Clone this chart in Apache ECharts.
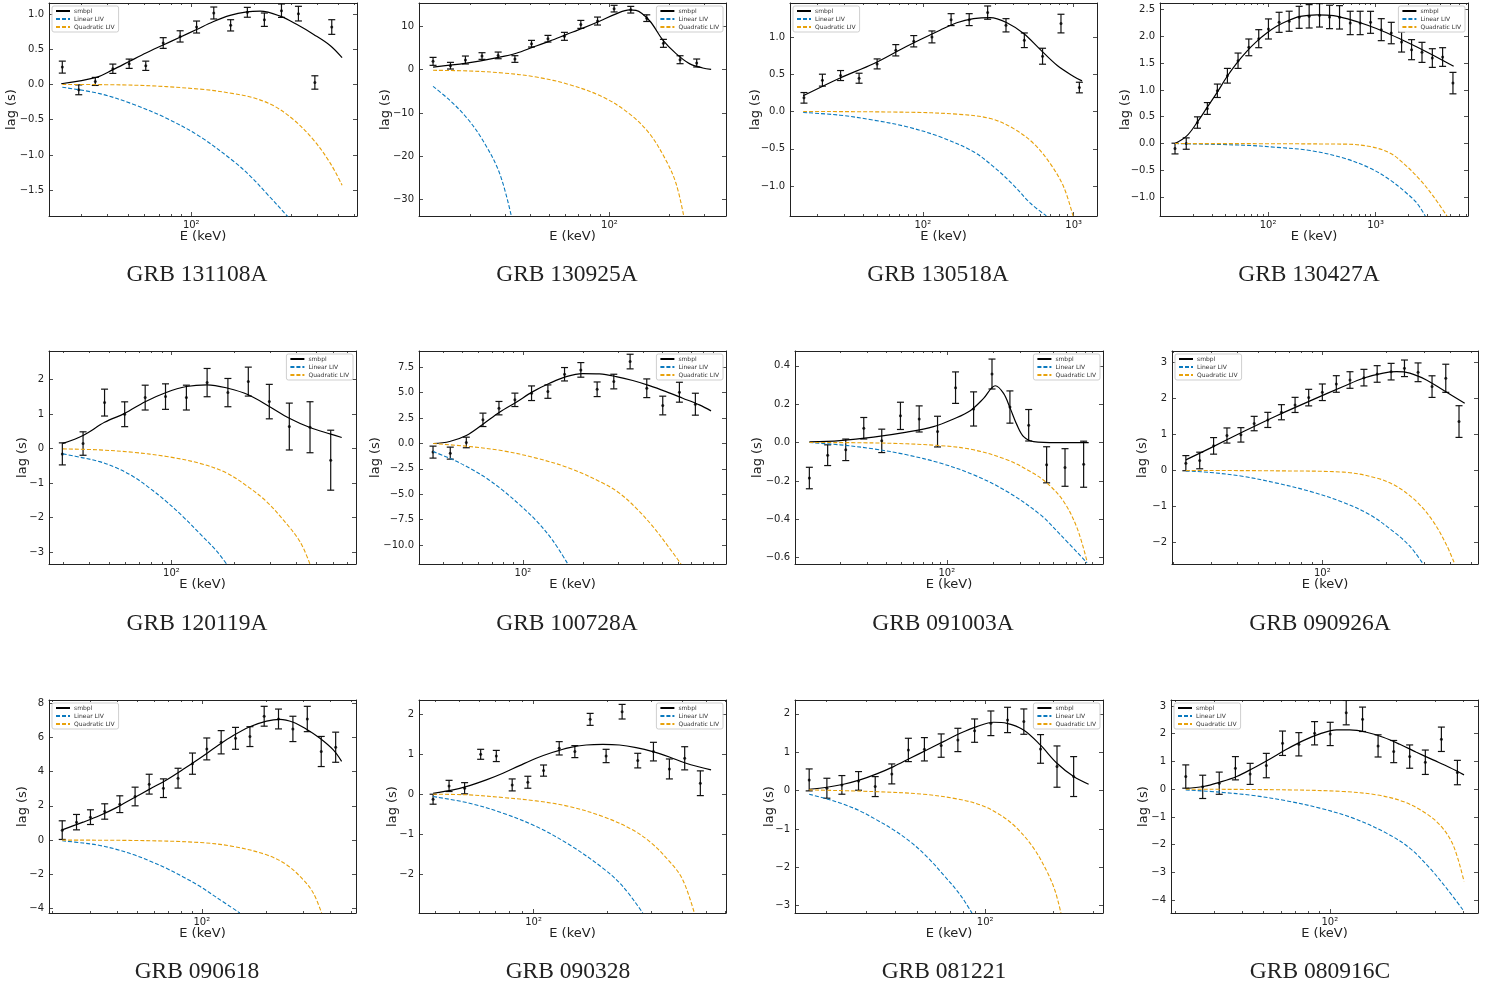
<!DOCTYPE html>
<html>
<head>
<meta charset="utf-8">
<title>GRB spectral lags</title>
<script src="https://cdn.jsdelivr.net/npm/echarts@6/dist/echarts.min.js"></script>
<style>
html, body { margin: 0; padding: 0; background: #fff; }
#lags { width: 1500px; height: 988px; }
</style>
</head>
<body>
<div id="lags"></div>
<script>
// measured lags: [E (keV), lag (s), error (s)]; curves: [E (keV), lag (s)]
var pts131108A = [[24.3,0.246,0.085],[29.1,-0.076,0.07],[34.9,0.043,0.057],[42.3,0.223,0.066],[50.6,0.294,0.066],[60.7,0.265,0.066],[73.5,0.588,0.076],[88.5,0.682,0.08],[106,0.815,0.085],[128,1.014,0.085],[154,0.839,0.08],[185,1.024,0.07],[223,0.919,0.095],[269,1.047,0.095],[324,1.005,0.104],[388,0.028,0.095],[467,0.815,0.104]];
var smbpl131108A = [[24.0,0.01],[35.3,0.10],[42.4,0.21],[50.9,0.33],[61.2,0.45],[73.5,0.56],[88.3,0.67],[106,0.78],[127,0.89],[153,0.98],[184,1.03],[213,1.04],[265,0.97],[319,0.85],[383,0.71],[460,0.55],[523,0.38]];
var lin131108A = [[24.3,-0.04],[36.6,-0.13],[52.8,-0.28],[76.2,-0.48],[110,-0.74],[159,-1.09],[191,-1.30],[229,-1.55],[287,-1.87],[300,-1.95]];
var quad131108A = [[24.3,0],[52.8,-0.01],[110,-0.066],[159,-0.13],[198,-0.19],[246,-0.30],[307,-0.50],[383,-0.79],[460,-1.12],[523,-1.43]];
var xLim131108A = [21.0, 616];
var yLim131108A = [-1.867, 1.156];
var yTicks131108A = [-1.5, -1, -0.5, 0, 0.5, 1];

var pts130925A = [[13.0,1.92,0.92],[15.9,0.92,0.77],[18.9,2.23,0.92],[22.9,3.15,0.77],[27.6,3.3,0.77],[33.5,2.46,0.77],[40.6,6.0,0.77],[49.1,7.15,0.77],[59.4,7.7,0.92],[71.8,10.46,0.92],[87.1,11.23,0.92],[105.5,14.1,0.77],[127.9,13.85,0.77],[153.9,11.9,0.77],[186.6,6.08,0.92],[226.2,2.3,0.92],[274.2,1.54,0.92]];
var smbpl130925A = [[13.0,0.6],[19.1,1.5],[28.1,2.9],[34.0,3.8],[41.3,5.2],[50.0,6.6],[60.6,8.1],[73.5,9.6],[89.1,11.2],[108,12.9],[126,13.8],[136,13.7],[159,11.3],[185,6.9],[216,3.7],[252,1.4],[294,0.38],[324,0.08]];
var lin130925A = [[13.0,-3.85],[15.8,-7.1],[19.1,-11.0],[23.1,-16.3],[28.1,-24],[32.4,-34.5]];
var quad130925A = [[13.0,-0.15],[19.8,-0.3],[29.2,-0.77],[42.9,-1.7],[63.0,-3.46],[92.6,-6.3],[126,-10.2],[159,-14.8],[192,-20.9],[216,-26.3],[236,-33.8]];
var xLim130925A = [11.05, 384.8];
var yLim130925A = [-33.8, 15.4];
var yTicks130925A = [-30, -20, -10, 0, 10];

var pts130518A = [[16.3,0.183,0.071],[21.6,0.42,0.08],[28.5,0.482,0.067],[37.8,0.446,0.067],[49.8,0.638,0.067],[66.2,0.821,0.076],[87.1,0.942,0.076],[115,1.0,0.08],[154,1.232,0.08],[203,1.232,0.08],[269,1.326,0.089],[356,1.156,0.089],[471,0.955,0.098],[622,0.741,0.107],[824,1.179,0.125],[1091,0.321,0.071]];
var smbpl130518A = [[16.1,0.21],[28.3,0.45],[47.1,0.64],[78.3,0.875],[130,1.09],[168,1.19],[217,1.245],[280,1.26],[361,1.19],[466,1.045],[601,0.83],[775,0.62],[1000,0.47],[1136,0.41]];
var lin130518A = [[16.1,-0.013],[28.3,-0.05],[47.1,-0.116],[78.3,-0.205],[130,-0.34],[217,-0.54],[294,-0.74],[400,-0.99],[516,-1.23],[659,-1.40]];
var quad130518A = [[16.1,0],[78.3,-0.01],[168,-0.036],[280,-0.094],[400,-0.23],[543,-0.43],[700,-0.70],[858,-1.01],[990,-1.40]];
var xLim130518A = [13.17, 1428];
var yLim130518A = [-1.402, 1.455];
var yTicks130518A = [-1, -0.5, 0, 0.5, 1];

var pts130427A = [[13.6,-0.093,0.1],[17.3,0.0,0.106],[22.0,0.392,0.106],[27.2,0.654,0.11],[33.7,0.984,0.125],[41.8,1.264,0.137],[52.5,1.544,0.143],[66.1,1.793,0.156],[81.8,1.955,0.168],[100.7,2.136,0.187],[126.6,2.26,0.187],[157,2.28,0.187],[194.5,2.353,0.205],[241,2.372,0.218],[301,2.39,0.218],[373,2.36,0.218],[462,2.353,0.218],[581,2.248,0.218],[719,2.248,0.218],[898,2.26,0.205],[1130,2.123,0.205],[1400,2.06,0.2],[1746,1.893,0.187],[2163,1.75,0.187],[2704,1.70,0.187],[3375,1.594,0.174],[4207,1.613,0.174],[5250,1.127,0.2]];
var smbpl130427A = [[13.6,0],[17.5,0.143],[21.6,0.38],[26.8,0.66],[33.2,0.94],[41.2,1.24],[51.1,1.5],[63.3,1.72],[78.4,1.905],[97.2,2.06],[120,2.185],[149,2.28],[199,2.37],[284,2.40],[406,2.385],[581,2.31],[831,2.21],[1187,2.09],[1697,1.95],[2427,1.80],[3470,1.64],[5330,1.44]];
var lin130427A = [[13.6,0],[58.9,-0.03],[120,-0.07],[246,-0.13],[503,-0.27],[892,-0.46],[1369,-0.68],[1958,-0.93],[2427,-1.11],[2901,-1.35]];
var quad130427A = [[13.6,0],[503,-0.01],[892,-0.056],[1369,-0.18],[1823,-0.37],[2607,-0.68],[3470,-0.99],[4619,-1.35]];
var xLim130427A = [9.86, 7248];
var yLim130427A = [-1.35, 2.62];
var yTicks130427A = [-1, -0.5, 0, 0.5, 1, 1.5, 2, 2.5];

var pts120119A = [[29.8,-0.155,0.32],[37.5,0.145,0.34],[47.6,1.333,0.39],[59.5,0.995,0.36],[74.7,1.478,0.36],[93.6,1.507,0.37],[118,1.478,0.36],[148.5,1.913,0.41],[187,1.623,0.41],[234.5,1.942,0.42],[296,1.362,0.5],[369.6,0.638,0.68],[465,0.618,0.74],[585,-0.338,0.87]];
var smbpl120119A = [[30.0,0.15],[37.5,0.38],[47.6,0.76],[59.5,1.02],[74.7,1.36],[93.6,1.62],[118,1.80],[148.5,1.85],[187,1.75],[234.5,1.56],[296,1.22],[369.6,0.88],[465,0.61],[585,0.42],[661,0.32]];
var lin120119A = [[30.0,-0.155],[37.5,-0.27],[45.1,-0.38],[54.3,-0.56],[65.3,-0.81],[78.6,-1.15],[94.6,-1.54],[113.8,-1.98],[137,-2.47],[164.8,-2.97],[184.2,-3.35]];
var quad120119A = [[30.0,-0.01],[45.1,-0.04],[65.3,-0.11],[94.6,-0.23],[137,-0.43],[184.2,-0.71],[238.7,-1.15],[287.2,-1.54],[345.6,-2.07],[415.9,-2.70],[464.8,-3.35]];
var xLim120119A = [25.7, 774.5];
var yLim120119A = [-3.35, 2.83];
var yTicks120119A = [-3, -2, -1, 0, 1, 2];

var pts100728A = [[35.5,-0.85,0.59],[43.3,-0.95,0.59],[52.1,0.1,0.52],[63.1,2.33,0.66],[75.9,3.48,0.66],[91.2,4.3,0.66],[110.5,4.95,0.72],[133.4,5.11,0.66],[161.6,6.82,0.66],[195,7.25,0.72],[235.3,5.34,0.72],[285.1,6.1,0.72],[344.1,8.07,0.72],[416.9,5.44,0.92],[501.2,3.74,0.92],[607.3,5.05,0.98],[730,3.87,1.08]];
var smbpl100728A = [[35.5,0],[43.0,0.2],[52.1,0.79],[63.1,1.9],[76.4,3.08],[92.6,4.07],[112.2,5.11],[136,5.93],[164.7,6.59],[199.5,6.89],[241.7,6.85],[292.9,6.59],[354.8,6.2],[429.9,5.7],[520.8,5.11],[631,4.46],[764.3,3.8],[874.3,3.21]];
var lin100728A = [[35.5,-0.79],[44.7,-1.6],[54.1,-2.43],[65.6,-3.41],[79.4,-4.62],[96.2,-6.03],[116.6,-7.6],[141.3,-9.57],[167.9,-11.87]];
var quad100728A = [[35.5,0],[54.1,-0.3],[79.4,-0.72],[116.6,-1.44],[171.1,-2.43],[251.2,-3.9],[304.2,-4.89],[368.6,-6.36],[446.7,-8.16],[541.1,-10.3],[618.8,-11.87]];
var xLim100728A = [30.2, 1039];
var yLim100728A = [-11.87, 9.11];
var yTicks100728A = [-10, -7.5, -5, -2.5, 0, 2.5, 5, 7.5];

var pts091003A = [[12.6,-0.185,0.056],[16.6,-0.066,0.054],[21.8,-0.038,0.056],[28.6,0.0745,0.056],[37.5,0.0087,0.061],[49.7,0.139,0.071],[65.9,0.123,0.068],[86.9,0.057,0.08],[114,0.286,0.082],[149.6,0.175,0.089],[197.4,0.357,0.078],[258.6,0.185,0.084],[343,0.09,0.082],[449.5,-0.116,0.094],[593,-0.13,0.098],[785,-0.113,0.12]];
var smbpl091003A = [[12.6,0.003],[20.0,0.01],[33.1,0.028],[54.7,0.054],[81.8,0.083],[110.6,0.123],[142.2,0.166],[173.9,0.23],[207.3,0.296],[235,0.256],[259.8,0.178],[287.4,0.092],[317.8,0.031],[369.5,0.005],[525.5,0],[847.1,0]];
var lin091003A = [[12.6,0],[20.0,-0.012],[33.1,-0.033],[54.7,-0.064],[90.4,-0.107],[149.5,-0.168],[247.2,-0.255],[408.7,-0.376],[552.6,-0.48],[826.1,-0.627]];
var quad091003A = [[12.6,0],[33.1,-0.002],[90.4,-0.016],[149.5,-0.038],[247.2,-0.09],[351.5,-0.151],[451.9,-0.211],[581.1,-0.307],[710.5,-0.445],[826.1,-0.619]];
var xLim091003A = [10.15, 1051];
var yLim091003A = [-0.633, 0.477];
var yTicks091003A = [-0.6, -0.4, -0.2, 0, 0.2, 0.4];

var pts090926A = [[22.9,0.203,0.21],[26.6,0.277,0.23],[30.9,0.683,0.23],[35.7,0.97,0.21],[41.5,0.988,0.2],[47.9,1.302,0.2],[55.5,1.403,0.21],[64.3,1.616,0.21],[74.5,1.819,0.21],[86.3,2.022,0.23],[100,2.17,0.23],[116.3,2.4,0.23],[134.8,2.51,0.23],[156.7,2.576,0.23],[180.8,2.678,0.23],[210.2,2.742,0.23],[242.8,2.835,0.23],[281.2,2.724,0.26],[327,2.327,0.3],[379.3,2.558,0.39],[437.6,1.357,0.44]];
var smbpl090926A = [[22.9,0.295],[29.8,0.62],[42.7,1.08],[61.1,1.52],[87.6,1.93],[125.4,2.33],[155.6,2.56],[193,2.70],[222.8,2.74],[257.2,2.70],[307.7,2.51],[368.4,2.23],[465.3,1.865]];
var lin090926A = [[22.9,-0.01],[29.8,-0.055],[42.7,-0.166],[61.1,-0.35],[87.6,-0.58],[125.4,-0.886],[167.2,-1.23],[214.9,-1.69],[257.2,-2.1],[297,-2.595]];
var quad090926A = [[22.9,0],[61.1,-0.01],[125.4,-0.046],[179.6,-0.21],[222.8,-0.44],[276.3,-0.86],[330.7,-1.41],[381.8,-2.06],[417.7,-2.595]];
var xLim090926A = [19.72, 537.2];
var yLim090926A = [-2.595, 3.315];
var yTicks090926A = [-2, -1, 0, 1, 2, 3];

var pts090618 = [[22.2,0.584,0.545],[25.9,1.05,0.45],[30.1,1.342,0.43],[35.1,1.673,0.45],[41.3,2.1,0.49],[48.7,2.55,0.545],[56.7,3.27,0.58],[66.1,3.035,0.545],[77.4,3.62,0.58],[90.4,4.47,0.62],[105.5,5.33,0.64],[123.2,5.72,0.68],[143.8,5.95,0.64],[168,6.05,0.58],[195.9,7.24,0.58],[228.6,7.08,0.58],[267,6.5,0.74],[311.8,7.08,0.74],[362.4,5.18,0.88],[423.4,5.43,0.88]];
var smbpl090618 = [[22.2,0.6],[27.8,1.05],[33.3,1.44],[39.8,1.9],[47.7,2.45],[57.0,2.98],[68.3,3.52],[81.8,4.14],[97.9,4.79],[117.2,5.47],[140.3,6.11],[167.9,6.63],[201,6.96],[232.1,7.06],[268,6.89],[309.4,6.48],[357.4,5.95],[412.7,5.27],[451.5,4.6]];
var lin090618 = [[22.2,-0.04],[27.8,-0.17],[33.3,-0.31],[39.8,-0.54],[47.7,-0.84],[57.0,-1.22],[68.3,-1.65],[81.8,-2.15],[97.9,-2.70],[117.2,-3.35],[150.7,-4.26]];
var quad090618 = [[22.2,0],[47.7,-0.02],[97.9,-0.14],[140.3,-0.37],[201,-0.86],[249.4,-1.44],[298.5,-2.32],[332.6,-3.09],[363.9,-4.26]];
var xLim090618 = [19.25, 527.2];
var yLim090618 = [-4.26, 8.19];
var yTicks090618 = [-4, -2, 0, 2, 4, 6, 8];

var pts090328 = [[39.1,-0.125,0.125],[45.4,0.208,0.14],[52.5,0.15,0.14],[61.0,1.0,0.125],[70.6,0.958,0.14],[81.9,0.233,0.15],[94.8,0.3,0.15],[109.8,0.592,0.14],[127.1,1.15,0.167],[147.1,1.067,0.15],[169.7,1.875,0.15],[197,0.958,0.167],[228.8,2.067,0.183],[264.8,0.842,0.183],[306.6,1.067,0.233],[355.9,0.633,0.25],[410.6,0.9,0.29],[475.3,0.275,0.31]];
var smbpl090328 = [[39.1,0.025],[47.1,0.108],[55.0,0.217],[64.3,0.358],[75.1,0.525],[87.8,0.717],[102.5,0.9],[119.8,1.05],[139.9,1.167],[163.5,1.233],[191,1.25],[223.2,1.233],[260.8,1.167],[304.7,1.067],[355.9,0.933],[415.8,0.775],[525.3,0.608]];
var lin090328 = [[39.1,-0.058],[55.0,-0.225],[75.1,-0.475],[102.5,-0.808],[139.9,-1.267],[191,-1.85],[230.2,-2.308],[277.5,-2.975]];
var quad090328 = [[39.1,0],[55.0,-0.017],[75.1,-0.083],[102.5,-0.167],[139.9,-0.308],[191,-0.558],[245,-0.85],[295.3,-1.18],[355.9,-1.68],[403.1,-2.14],[449.4,-2.975]];
var xLim090328 = [34.28, 604.1];
var yLim090328 = [-2.975, 2.36];
var yTicks090328 = [-2, -1, 0, 1, 2];

var pts081221 = [[16.8,0.278,0.286],[20.1,0.061,0.26],[23.4,0.148,0.243],[27.7,0.252,0.243],[32.8,0.104,0.26],[38.8,0.434,0.26],[45.9,1.059,0.304],[54.0,1.076,0.304],[64.0,1.172,0.304],[75.8,1.319,0.304],[89.8,1.562,0.304],[105.9,1.753,0.321],[125.4,1.84,0.33],[147.9,1.797,0.33],[175.2,1.085,0.373],[207,0.625,0.538],[245,0.365,0.52]];
var smbpl081221 = [[16.8,0.035],[20.1,0.087],[23.8,0.165],[28.1,0.278],[33.3,0.434],[39.5,0.625],[46.7,0.842],[55.3,1.059],[65.5,1.276],[77.6,1.493],[91.9,1.667],[108.8,1.78],[124.6,1.753],[147.5,1.58],[174.7,1.19],[206.9,0.712],[245,0.365],[285.2,0.165]];
var lin081221 = [[16.8,-0.095],[20.1,-0.217],[23.8,-0.356],[28.1,-0.53],[33.3,-0.764],[39.5,-1.024],[46.7,-1.328],[55.3,-1.719],[65.5,-2.196],[77.6,-2.717],[87.4,-3.19]];
var quad081221 = [[16.8,0.017],[32.2,-0.026],[53.5,-0.095],[75.0,-0.217],[95.1,-0.373],[116.4,-0.634],[137.9,-0.98],[163.3,-1.5],[187,-2.11],[203.4,-2.63],[215.4,-3.19]];
var xLim081221 = [14.55, 329.9];
var yLim081221 = [-3.19, 2.36];
var yTicks081221 = [-3, -2, -1, 0, 1, 2];

var pts080916C = [[22.3,0.456,0.42],[26.6,0.084,0.42],[31.6,0.216,0.4],[37.4,0.756,0.42],[43.6,0.552,0.38],[51.6,0.852,0.44],[61.1,1.657,0.44],[72.4,1.62,0.42],[85.3,2.017,0.42],[100.4,1.993,0.42],[118.6,2.761,0.44],[140.6,2.521,0.44],[165.3,1.561,0.4],[194.5,1.357,0.4],[229.7,1.176,0.42],[270.4,0.972,0.44],[319.6,1.8,0.44],[377.6,0.6,0.44]];
var smbpl080916C = [[22.3,0.024],[26.8,0.096],[31.8,0.252],[37.9,0.456],[45.0,0.756],[53.6,1.092],[63.7,1.44],[75.8,1.753],[90.1,1.993],[107.2,2.137],[123.1,2.137],[146.4,2.053],[174.2,1.873],[207.2,1.62],[246.4,1.333],[293.1,1.056],[348.5,0.78],[404.5,0.516]];
var lin080916C = [[22.3,-0.024],[31.8,-0.108],[45.0,-0.228],[63.7,-0.42],[90.1,-0.684],[127.4,-1.044],[180.3,-1.585],[229.8,-2.125],[283,-2.845],[336.6,-3.565],[404.5,-4.406]];
var quad080916C = [[22.3,0],[63.7,-0.024],[114.9,-0.084],[162.5,-0.204],[214.5,-0.444],[264,-0.804],[314.1,-1.284],[360.8,-2.005],[404.5,-3.325]];
var xLim080916C = [19.12, 468.0];
var yLim080916C = [-4.466, 3.217];
var yTicks080916C = [-4, -3, -2, -1, 0, 1, 2, 3];

var grbNames = ['GRB 131108A','GRB 130925A','GRB 130518A','GRB 130427A','GRB 120119A','GRB 100728A','GRB 091003A','GRB 090926A','GRB 090618','GRB 090328','GRB 081221','GRB 080916C'];
var lagPoints = [pts131108A, pts130925A, pts130518A, pts130427A, pts120119A, pts100728A, pts091003A, pts090926A, pts090618, pts090328, pts081221, pts080916C];
var smbplCurves = [smbpl131108A, smbpl130925A, smbpl130518A, smbpl130427A, smbpl120119A, smbpl100728A, smbpl091003A, smbpl090926A, smbpl090618, smbpl090328, smbpl081221, smbpl080916C];
var linCurves = [lin131108A, lin130925A, lin130518A, lin130427A, lin120119A, lin100728A, lin091003A, lin090926A, lin090618, lin090328, lin081221, lin080916C];
var quadCurves = [quad131108A, quad130925A, quad130518A, quad130427A, quad120119A, quad100728A, quad091003A, quad090926A, quad090618, quad090328, quad081221, quad080916C];
var xLims = [xLim131108A, xLim130925A, xLim130518A, xLim130427A, xLim120119A, xLim100728A, xLim091003A, xLim090926A, xLim090618, xLim090328, xLim081221, xLim080916C];
var yLims = [yLim131108A, yLim130925A, yLim130518A, yLim130427A, yLim120119A, yLim100728A, yLim091003A, yLim090926A, yLim090618, yLim090328, yLim081221, yLim080916C];
var yTicks = [yTicks131108A, yTicks130925A, yTicks130518A, yTicks130427A, yTicks120119A, yTicks100728A, yTicks091003A, yTicks090926A, yTicks090618, yTicks090328, yTicks081221, yTicks080916C];

// panel boxes in px: left, top, width, height, legend side, ylabel gap, title centre x, decimals
var panelBox = [
	[49, 3, 308, 213, 'left', 31, 197, 1],
	[419, 3, 307, 213, 'right', 27, 567, 0],
	[790, 3, 307, 213, 'left', 28, 938, 1],
	[1160, 3, 308, 213, 'right', 28, 1309, 1],
	[49, 351, 307, 213, 'right', 20, 197, 0],
	[419, 351, 307, 213, 'right', 37, 567, 1],
	[795, 351, 308, 213, 'right', 31, 943, 1],
	[1172, 351, 306, 213, 'left', 23, 1320, 0],
	[49, 700, 307, 213, 'left', 20, 197, 0],
	[419, 700, 307, 213, 'right', 20, 568, 0],
	[795, 700, 308, 213, 'right', 19, 944, 0],
	[1171, 700, 307, 213, 'left', 21, 1320, 0]
];
var titleY = [273, 622, 970];

var lagChart = (function() {
	var ink = '#222';
	var blue = '#0a79be';
	var orange = '#e8a20c';
	var sans = 'DejaVu Sans';
	var supers = {'1': '\u00b9', '2': '\u00b2', '3': '\u00b3', '4': '\u2074'};

	function lg(v) {
		return Math.log(v) / Math.LN10;
	}
	function toLog(arr) {
		return arr.map(function(p) {
			var q = p.slice();
			q[0] = lg(p[0]);
			return q;
		});
	}
	// decades that sit clearly inside the axis range
	function majors(lim) {
		var out = [], lo = lg(lim[0]), hi = lg(lim[1]);
		for (var p = Math.ceil(lo); p <= Math.floor(hi); p++) {
			if (p > lo + 0.03 && p < hi - 0.03) out.push(p);
		}
		return out;
	}
	function minors(lim) {
		var out = [], lo = lg(lim[0]), hi = lg(lim[1]);
		for (var p = Math.floor(lo); p <= Math.ceil(hi); p++) {
			for (var k = 2; k < 10; k++) {
				var v = p + lg(k);
				if (v > lo && v < hi) out.push(v);
			}
		}
		return out;
	}
	function lagLabel(dec) {
		return function(v) {
			var s = Math.abs(v).toFixed(dec);
			return (v < -1e-9 ? '\u2212' : '') + s;
		};
	}
	function errBar(params, api) {
		var x = api.value(0), y = api.value(1), e = api.value(2);
		var hi = api.coord([x, y + e]);
		var lo = api.coord([x, y - e]);
		var cap = 3.5;
		var st = {stroke: '#111', lineWidth: 1.2};
		return {
			type: 'group',
			children: [
				{type: 'line', shape: {x1: hi[0], y1: hi[1], x2: lo[0], y2: lo[1]}, style: st},
				{type: 'line', shape: {x1: hi[0] - cap, y1: hi[1], x2: hi[0] + cap, y2: hi[1]}, style: st},
				{type: 'line', shape: {x1: lo[0] - cap, y1: lo[1], x2: lo[0] + cap, y2: lo[1]}, style: st}
			]
		};
	}
	function xAxisPart(i, lim, pos, ticks, len, withLine, withLabel) {
		var ax = {
			type: 'value',
			gridIndex: i,
			min: lg(lim[0]),
			max: lg(lim[1]),
			position: pos,
			axisLine: {show: withLine, onZero: false, lineStyle: {color: ink, width: 1}},
			axisTick: {show: true, inside: true, length: len, customValues: ticks, lineStyle: {color: ink, width: 0.8}},
			axisLabel: {show: false},
			splitLine: {show: false}
		};
		if (withLabel) {
			ax.axisLabel = {
				show: true,
				customValues: ticks,
				margin: 4,
				fontSize: 10,
				fontFamily: sans,
				color: ink,
				formatter: function(v) { return '10' + supers[String(Math.round(v))]; }
			};
			ax.name = 'E (keV)';
			ax.nameLocation = 'middle';
			ax.nameGap = 14;
			ax.nameMoveOverlap = false;
			ax.nameTextStyle = {fontSize: 13, fontFamily: sans, color: ink};
		}
		return ax;
	}

	return {
		init: function() {
			var chart = echarts.init(document.getElementById('lags'));
			var grids = [], xAxes = [], yAxes = [], series = [], legends = [], titles = [];

			for (var i = 0; i < grbNames.length; i++) {
				var box = panelBox[i];
				var xl = xLims[i], yl = yLims[i];
				var maj = majors(xl), mnr = minors(xl);

				grids.push({left: box[0], top: box[1], width: box[2], height: box[3], containLabel: false, outerBoundsMode: 'none'});

				xAxes.push(xAxisPart(i, xl, 'bottom', maj, 4, true, true));
				xAxes.push(xAxisPart(i, xl, 'bottom', mnr, 2, false, false));
				xAxes.push(xAxisPart(i, xl, 'top', maj, 4, true, false));
				xAxes.push(xAxisPart(i, xl, 'top', mnr, 2, false, false));

				yAxes.push({
					type: 'value', gridIndex: i, min: yl[0], max: yl[1], position: 'left',
					axisLine: {show: true, onZero: false, lineStyle: {color: ink, width: 1}},
					axisTick: {show: true, inside: true, length: 4, customValues: yTicks[i], lineStyle: {color: ink, width: 0.8}},
					axisLabel: {show: true, customValues: yTicks[i], margin: 5, fontSize: 10, fontFamily: sans, color: ink, formatter: lagLabel(box[7])},
					splitLine: {show: false},
					name: 'lag (s)', nameLocation: 'middle', nameGap: box[5], nameRotate: 90, nameMoveOverlap: false,
					nameTextStyle: {fontSize: 13, fontFamily: sans, color: ink}
				});
				yAxes.push({
					type: 'value', gridIndex: i, min: yl[0], max: yl[1], position: 'right',
					axisLine: {show: true, onZero: false, lineStyle: {color: ink, width: 1}},
					axisTick: {show: true, inside: true, length: 4, customValues: yTicks[i], lineStyle: {color: ink, width: 0.8}},
					axisLabel: {show: false},
					splitLine: {show: false}
				});

				var xi = i * 4, yi = i * 2;
				series.push({
					type: 'custom', name: 'lag', xAxisIndex: xi, yAxisIndex: yi,
					renderItem: errBar, data: toLog(lagPoints[i]), encode: {x: 0, y: 1}, clip: true, z: 2
				});
				series.push({
					type: 'scatter', name: 'lag', xAxisIndex: xi, yAxisIndex: yi,
					data: toLog(lagPoints[i]).map(function(p) { return [p[0], p[1]]; }),
					symbol: 'circle', symbolSize: 3, itemStyle: {color: '#000'}, z: 3
				});
				series.push({
					type: 'line', name: 'smbpl', xAxisIndex: xi, yAxisIndex: yi,
					data: toLog(smbplCurves[i]), smooth: 0.35, symbol: 'none',
					lineStyle: {color: '#000', width: 1.2}, itemStyle: {color: '#000'}, z: 4
				});
				series.push({
					type: 'line', name: 'Linear LIV', xAxisIndex: xi, yAxisIndex: yi,
					data: toLog(linCurves[i]), smooth: 0.35, symbol: 'none',
					lineStyle: {color: blue, width: 1.1, type: [4, 2]}, itemStyle: {color: blue}, z: 4
				});
				series.push({
					type: 'line', name: 'Quadratic LIV', xAxisIndex: xi, yAxisIndex: yi,
					data: toLog(quadCurves[i]), smooth: 0.35, symbol: 'none',
					lineStyle: {color: orange, width: 1.1, type: [4, 2]}, itemStyle: {color: orange}, z: 4
				});

				var leg = {
					data: ['smbpl', 'Linear LIV', 'Quadratic LIV'],
					orient: 'vertical', top: box[1] + 3,
					itemWidth: 14, itemHeight: 6, itemGap: 2,
					padding: [2, 4, 2, 3],
					itemStyle: {opacity: 0},
					textStyle: {fontSize: 6, fontFamily: sans, color: '#333', padding: [0, 0, 0, -1]},
					backgroundColor: 'rgba(255,255,255,0.85)',
					borderColor: '#cfcfcf', borderWidth: 1, borderRadius: 2,
					selectedMode: false
				};
				if (box[4] === 'left') leg.left = box[0] + 3;
				else leg.right = 1500 - (box[0] + box[2]) + 3;
				legends.push(leg);

				titles.push({
					text: grbNames[i],
					left: box[6], top: titleY[Math.floor(i / 4)] - 10,
					textAlign: 'center', padding: 0,
					textStyle: {fontFamily: 'Liberation Serif', fontSize: 23.5, fontWeight: 'normal', color: '#222'}
				});
			}

			chart.setOption({
				animation: false,
				backgroundColor: '#fff',
				title: titles,
				legend: legends,
				grid: grids,
				xAxis: xAxes,
				yAxis: yAxes,
				series: series
			});
		}
	};
}());

lagChart.init();
</script>
</body>
</html>
